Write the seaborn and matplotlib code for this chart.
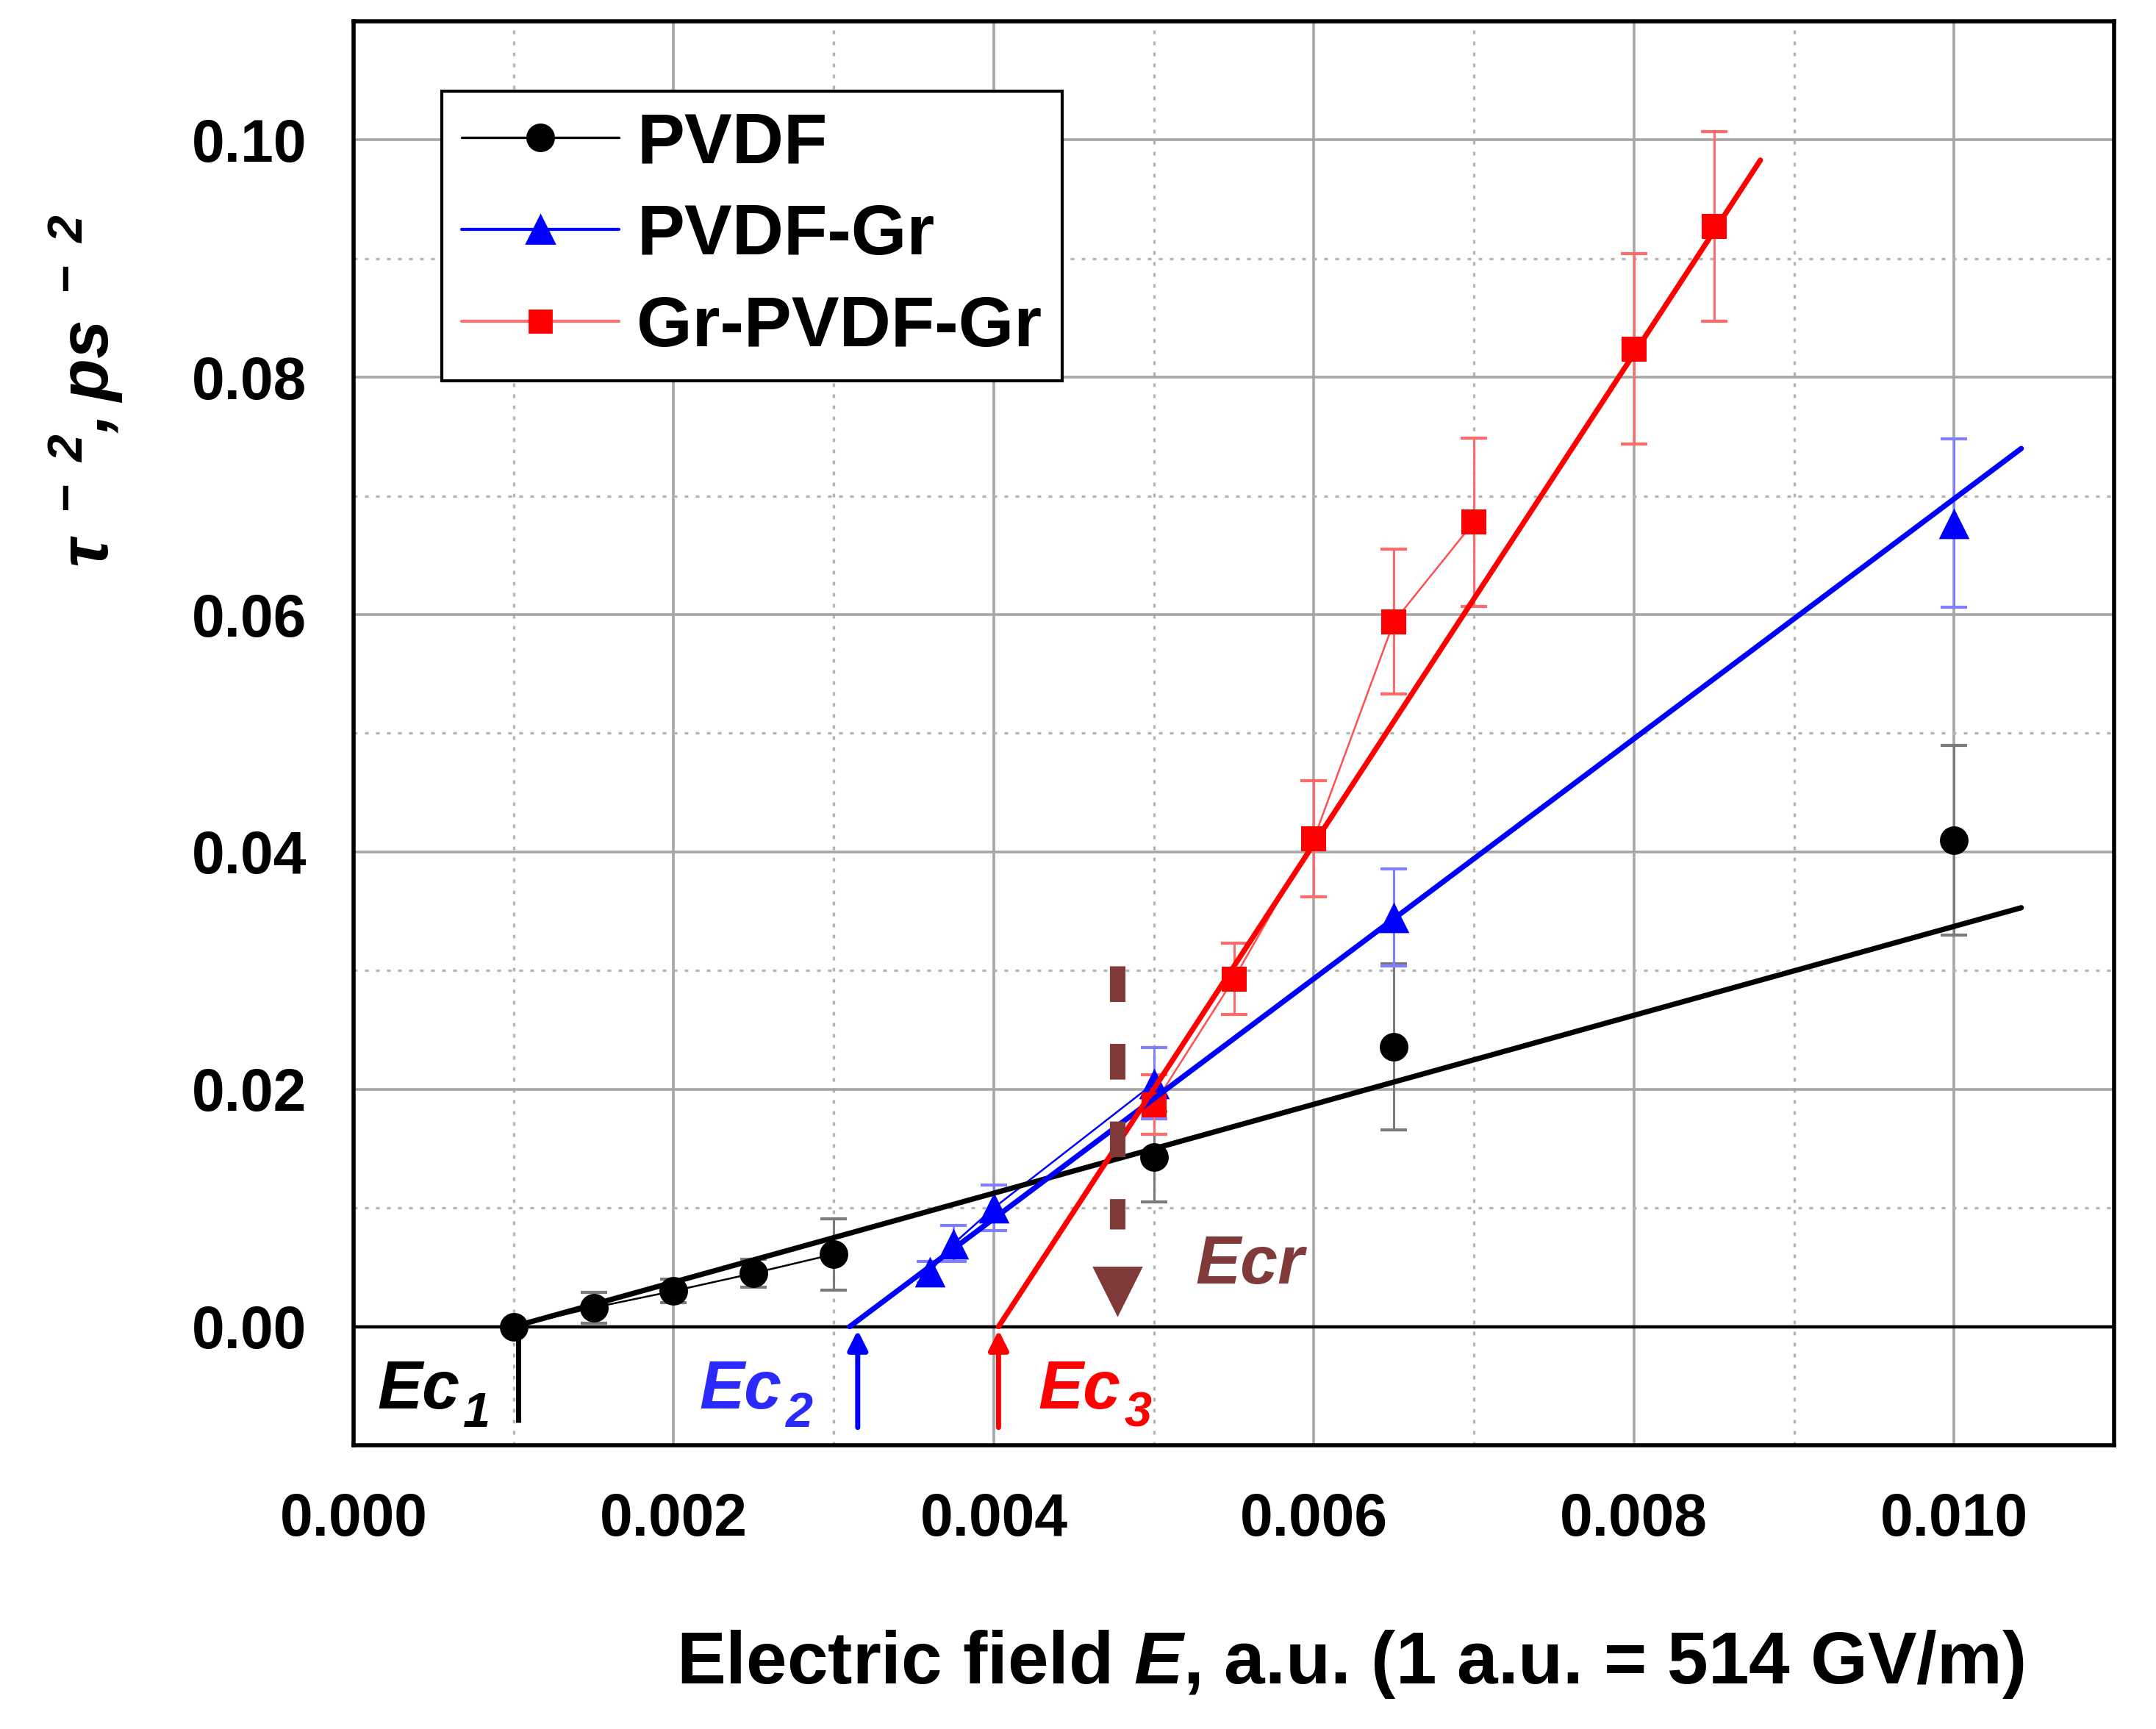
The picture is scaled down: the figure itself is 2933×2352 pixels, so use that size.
import matplotlib
matplotlib.use('Agg')
import matplotlib.pyplot as plt
import seaborn as sns
from matplotlib.ticker import MultipleLocator, FormatStrFormatter
from matplotlib.lines import Line2D

# data
pvdf_E = [0.001, 0.0015, 0.002, 0.0025, 0.003, 0.005, 0.0065, 0.010]
pvdf_tau = [0.0, 0.0016, 0.0030, 0.0045, 0.0061, 0.0143, 0.0236, 0.0410]
pvdf_err = [0.0, 0.0013, 0.0010, 0.0012, 0.0030, 0.0038, 0.0070, 0.0080]
pvdf_fit_E = [0.001, 0.01042]
pvdf_fit = [0.0, 0.0353]

gr_E = [0.0036, 0.00375, 0.004, 0.005, 0.0065, 0.010]
gr_tau = [0.0046, 0.0070, 0.0100, 0.0205, 0.0345, 0.0677]
gr_err = [0.0009, 0.0015, 0.0019, 0.0030, 0.0041, 0.0071]
gr_fit_E = [0.0031, 0.01042]
gr_fit = [0.0, 0.0740]

grg_E = [0.005, 0.0055, 0.006, 0.0065, 0.007, 0.008, 0.0085]
grg_tau = [0.0187, 0.0293, 0.0411, 0.0594, 0.0678, 0.0824, 0.0927]
grg_err = [0.0025, 0.0030, 0.0049, 0.0061, 0.0071, 0.0080, 0.0080]
grg_fit_E = [0.00403, 0.00879]
grg_fit = [0.0, 0.0983]

ec_E = [0.00103, 0.00315, 0.00403]
ecr_E = 0.00477

labels = ['PVDF', 'PVDF-Gr', 'Gr-PVDF-Gr']

sns.set_style('white')
plt.rcParams['font.family'] = ['Liberation Sans', 'DejaVu Sans']
plt.rcParams['font.weight'] = 'bold'
plt.rcParams['text.color'] = 'black'
plt.rcParams['axes.labelcolor'] = 'black'
plt.rcParams['mathtext.fontset'] = 'custom'
plt.rcParams['mathtext.it'] = 'Liberation Sans:italic:bold'
plt.rcParams['mathtext.rm'] = 'Liberation Sans:italic:bold'
plt.rcParams['mathtext.bf'] = 'Liberation Sans:bold'

brown = '#803a3a'

fig = plt.figure(figsize=(14.665, 11.76), dpi=200)
ax = fig.add_axes([481 / 2933, 1 - 1966 / 2352, (2876 - 481) / 2933, (1966 - 29) / 2352])

ax.axhline(0, color='black', lw=1.6, zorder=2)

series = [
    (pvdf_E, pvdf_tau, pvdf_err, pvdf_fit_E, pvdf_fit, 5, 'o', 14, 'black', 'black', '#7a7a7a'),
    (gr_E, gr_tau, gr_err, gr_fit_E, gr_fit, 4, '^', 15, 'blue', 'blue', '#7f7fff'),
    (grg_E, grg_tau, grg_err, grg_fit_E, grg_fit, 5, 's', 12, 'red', '#ff5050', '#ff6a6a'),
]

for E, tau, err, fE, fy, n, m, ms, col, thin, ecol in series:
    # thin line through the first points
    sns.lineplot(x=E[:n], y=tau[:n], ax=ax, color=thin, lw=0.9, zorder=3, legend=False)
    eb = ax.errorbar(E, tau, yerr=err, fmt='none', ecolor=ecol, elinewidth=1.1,
                     capsize=6.5, capthick=1.5, zorder=4)
    for cap in eb[1]:
        cap.set_color(col)
    sns.scatterplot(x=E, y=tau, ax=ax, marker=m, s=ms ** 2, color=col, edgecolor=col,
                    linewidth=0, zorder=5, legend=False)
    # linear fit
    sns.lineplot(x=fE, y=fy, ax=ax, color=col, lw=2.6, zorder=6, legend=False)

# threshold fields
ax.vlines(ec_E[0], -0.0081, 0, color='black', lw=2.5, zorder=6)
for x, c in zip(ec_E[1:], ['blue', 'red']):
    ax.annotate('', xy=(x, -0.0003), xytext=(x, -0.0085),
                arrowprops=dict(arrowstyle='-|>', color=c, lw=2.5, mutation_scale=20,
                                shrinkA=0, shrinkB=0), zorder=6)

ax.plot([ecr_E, ecr_E], [0.0304, 0.0082], color=brown, lw=7.6, dashes=(2.3, 2.7),
        dash_capstyle='butt', zorder=7)
ax.plot([ecr_E], [0.0030], marker='v', ms=23, color=brown, ls='none', zorder=7)

for x, sub, c in [(0.00015, '1', 'black'), (0.00216, '2', '#2a2aff'), (0.00428, '3', 'red')]:
    ax.text(x, -0.0069, 'Ec', color=c, fontsize=33, fontstyle='italic')
    ax.annotate(sub, xy=(x, -0.0069), xytext=(42, -9), textcoords='offset points',
                color=c, fontsize=24, fontstyle='italic', va='baseline')
ax.text(0.00526, 0.0036, 'Ecr', color=brown, fontsize=33, fontstyle='italic')

ax.set_xlim(0, 0.011)
ax.set_ylim(-0.01, 0.11)
ax.xaxis.set_major_locator(MultipleLocator(0.002))
ax.xaxis.set_minor_locator(MultipleLocator(0.001))
ax.yaxis.set_major_locator(MultipleLocator(0.02))
ax.yaxis.set_minor_locator(MultipleLocator(0.01))
ax.xaxis.set_major_formatter(FormatStrFormatter('%.3f'))
ax.yaxis.set_major_formatter(FormatStrFormatter('%.2f'))

ax.set_axisbelow(True)
ax.grid(which='major', color='#a6a6a6', lw=1.3, ls='-')
ax.grid(which='minor', color='#b4b4b4', lw=1.2, ls=(0, (1.5, 3)))

ax.tick_params(which='major', direction='out', length=13, width=1.6, pad=10,
               labelsize=29, colors='black')
ax.tick_params(which='minor', direction='out', length=6, width=1.6)
for s in ax.spines.values():
    s.set_visible(True)
    s.set_color('black')
    s.set_linewidth(2.0)

handles = [
    Line2D([], [], color='black', lw=1.2, marker='o', ms=13),
    Line2D([], [], color='blue', lw=1.5, marker='^', ms=14),
    Line2D([], [], color='#ff7070', lw=1.5, marker='s', mfc='red', mec='red', ms=11),
]
leg = ax.legend(handles, labels, loc='upper left', bbox_to_anchor=(0.05, 0.951),
                prop={'weight': 'bold', 'size': 35}, frameon=True, fancybox=False,
                edgecolor='black', framealpha=1, handlelength=2.2, handletextpad=0.25,
                borderpad=0.28, labelspacing=0.36, borderaxespad=0)
leg.get_frame().set_linewidth(1.5)
for t in leg.get_texts():
    t.set_color('black')

fig.text(117 / 2933, 1 - 532 / 2352, r'$\tau^{\ -\ 2}, ps^{\ -\ 2}$',
         rotation=90, ha='center', va='center', fontsize=34, color='black')
fig.text(1837 / 2933, 1 - 2290 / 2352, 'Electric field $E$, a.u. (1 a.u. = 514 GV/m)',
         ha='center', va='baseline', fontsize=36, color='black')

fig.savefig('out.png', dpi=200)
